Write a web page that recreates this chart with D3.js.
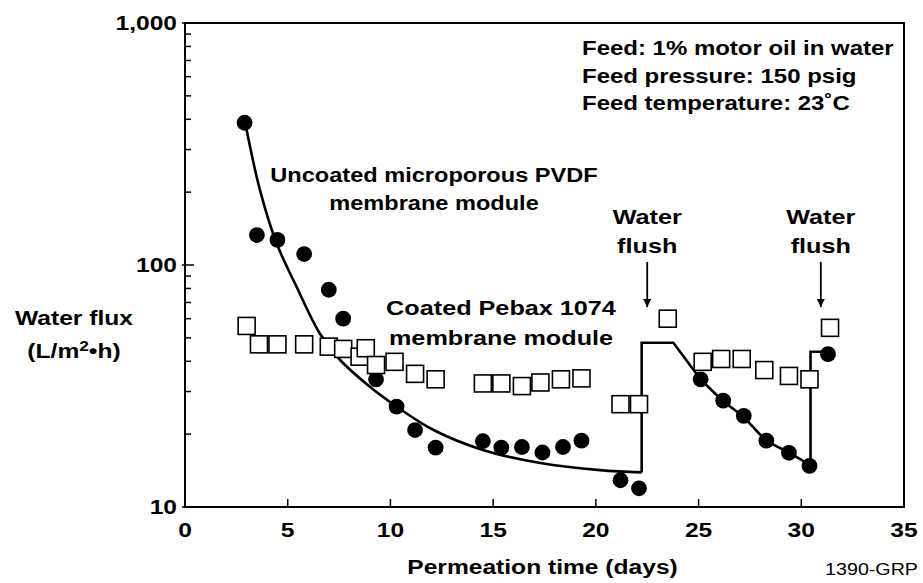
<!DOCTYPE html>
<html>
<head>
<meta charset="utf-8">
<script src="https://cdn.jsdelivr.net/npm/d3@7"></script>
<style>
  body { margin: 0; background: #fff; }
  svg text { font-family: "Liberation Sans", Arial, sans-serif; font-weight: bold; fill: #000; }
</style>
</head>
<body>
<svg width="923" height="583"></svg>
<script>
// uncoated PVDF module (filled circles)
const pvdfDays = [2.9, 3.5, 4.5, 5.8, 7.0, 7.7, 9.3, 10.3, 11.2, 12.2, 14.5, 15.4, 16.4, 17.4, 18.4, 19.3, 21.2, 22.1, 25.1, 26.2, 27.2, 28.3, 29.4, 30.4, 31.3];
const pvdfFlux = [387, 133, 127, 111, 79, 60, 33.7, 26, 20.8, 17.6, 18.7, 17.6, 17.7, 16.8, 17.7, 18.8, 12.9, 11.95, 33.7, 27.5, 23.8, 18.8, 16.75, 14.8, 42.8];

// coated Pebax 1074 module (open squares)
const pebaxDays = [3.0, 3.6, 4.5, 5.8, 7.0, 7.7, 8.5, 8.8, 9.3, 10.2, 11.2, 12.2, 14.5, 15.4, 16.4, 17.3, 18.3, 19.3, 21.2, 22.1, 23.5, 25.2, 26.1, 27.1, 28.2, 29.4, 30.4, 31.4];
const pebaxFlux = [56, 47, 47, 47, 46, 45, 41.8, 45.3, 38.6, 39.8, 35.5, 33.7, 32.4, 32.4, 31.6, 32.7, 33.7, 34, 26.6, 26.6, 60, 39.8, 40.9, 40.9, 36.8, 34.8, 33.7, 55];

// trend line through the PVDF data
const fitDecayDays = [2.95, 3.65, 4.46, 5.44, 6.57, 7.55, 9.0, 10.3, 12.1, 14.5, 17.3, 20.2, 22.23];
const fitDecayFlux = [380, 204, 123, 81, 52, 40.5, 31.4, 26.0, 20.8, 17.2, 15.2, 14.2, 13.9];
const fitStepDays = [22.23, 22.23, 23.77, 25.1, 26.16, 27.15, 28.27, 29.42, 30.45, 30.45, 31.3];
const fitStepFlux = [13.9, 47.7, 47.7, 33.7, 27.5, 23.8, 18.8, 16.75, 14.9, 43.8, 43.8];

const flushDays = [22.5, 30.95];
const xTicks = [0, 5, 10, 15, 20, 25, 30, 35];
const yMajor = [10, 100, 1000];

const svg = d3.select("svg");
const plotLeft = 185, plotRight = 904, plotTop = 23, plotBottom = 507;
const stretch = 1.23; // the original lettering is wider than Liberation Sans

const x = d3.scaleLinear().domain([0, 35]).range([plotLeft, plotRight]);
const y = d3.scaleLog().domain([10, 1000]).range([plotBottom, plotTop]);

function addText(px, py, str, size, anchor, sx) {
  return svg.append("text")
      .attr("transform", `translate(${px},${py}) scale(${sx || stretch},1)`)
      .attr("text-anchor", anchor || "start")
      .attr("font-size", size)
      .text(str);
}

// frame
svg.append("rect")
    .attr("x", plotLeft).attr("y", plotTop)
    .attr("width", plotRight - plotLeft).attr("height", plotBottom - plotTop)
    .attr("fill", "none").attr("stroke", "#000").attr("stroke-width", 2);

// y axis: minor ticks inside, majors crossing
svg.append("g").selectAll("line")
    .data(y.ticks())
    .enter().append("line")
    .attr("x1", (d) => yMajor.includes(d) ? plotLeft - 3 : plotLeft)
    .attr("x2", (d) => yMajor.includes(d) ? plotLeft + 9 : plotLeft + 6)
    .attr("y1", (d) => y(d)).attr("y2", (d) => y(d))
    .attr("stroke", "#000").attr("stroke-width", 1.5);
yMajor.forEach((d) => addText(plotLeft - 8, y(d) + 7, d3.format(",")(d), 20, "end"));

// x axis
svg.append("g").selectAll("line")
    .data(xTicks.slice(1, -1))
    .enter().append("line")
    .attr("x1", (d) => x(d)).attr("x2", (d) => x(d))
    .attr("y1", plotBottom).attr("y2", plotBottom - 8)
    .attr("stroke", "#000").attr("stroke-width", 1.5);
xTicks.forEach((d) => addText(x(d), plotBottom + 30, d, 20, "middle"));

addText((plotLeft + plotRight) / 2 - 2, 574, "Permeation time (days)", 20, "middle");
addText(918, 575, "1390-GRP", 16, "end").style("font-weight", "normal");

// y label
addText(74, 325, "Water flux", 20, "middle");
const yl2 = addText(74, 358, "", 20, "middle");
yl2.append("tspan").text("(L/m");
yl2.append("tspan").attr("font-size", 14).attr("dy", -7).text("2");
yl2.append("tspan").attr("dy", 7).text("\u2022h)");

// trend lines
const line = d3.line().x((d) => x(d[0])).y((d) => y(d[1]));
svg.append("path")
    .datum(d3.zip(fitDecayDays, fitDecayFlux))
    .attr("d", line.curve(d3.curveCatmullRom.alpha(0.5)))
    .attr("fill", "none").attr("stroke", "#000").attr("stroke-width", 2.6);
svg.append("path")
    .datum(d3.zip(fitStepDays, fitStepFlux))
    .attr("d", line.curve(d3.curveLinear))
    .attr("fill", "none").attr("stroke", "#000").attr("stroke-width", 2.6);

// PVDF points
svg.append("g").selectAll("circle")
    .data(d3.zip(pvdfDays, pvdfFlux))
    .enter().append("circle")
    .attr("cx", (d) => x(d[0]))
    .attr("cy", (d) => y(d[1]))
    .attr("r", 7.9)
    .attr("fill", "#000");

// Pebax points
const sq = 17;
svg.append("g").selectAll("rect")
    .data(d3.zip(pebaxDays, pebaxFlux))
    .enter().append("rect")
    .attr("x", (d) => x(d[0]) - sq / 2)
    .attr("y", (d) => y(d[1]) - sq / 2)
    .attr("width", sq).attr("height", sq)
    .attr("fill", "#fff").attr("stroke", "#000").attr("stroke-width", 1.6);

// annotations
const notes = ["Feed: 1% motor oil in water", "Feed pressure: 150 psig", "Feed temperature: 23\u02daC"];
notes.forEach((d, i) => addText(582, 55 + i * 27.5, d, 20.5, "start", 1.17));

const lbl = (lines, cx, y0, dy, sx) => {
  lines.forEach((d, i) => addText(cx, y0 + i * dy, d, 20.5, "middle", sx));
};
lbl(["Uncoated microporous PVDF", "membrane module"], 434, 182, 28, 1.15);
lbl(["Coated Pebax 1074", "membrane module"], 501, 315, 30);

// water flush arrows
svg.append("defs").append("marker")
    .attr("id", "head").attr("viewBox", "0 0 10 10")
    .attr("refX", 10).attr("refY", 5)
    .attr("markerWidth", 12).attr("markerHeight", 8)
    .attr("markerUnits", "userSpaceOnUse")
    .attr("orient", "auto")
    .append("path").attr("d", "M0,0 L10,5 L0,10 Z").attr("fill", "#000");
flushDays.forEach((d) => {
  lbl(["Water", "flush"], x(d), 224, 29);
  svg.append("line")
      .attr("x1", x(d)).attr("x2", x(d))
      .attr("y1", y(103)).attr("y2", y(67))
      .attr("stroke", "#000").attr("stroke-width", 1.8)
      .attr("marker-end", "url(#head)");
});
</script>
</body>
</html>
